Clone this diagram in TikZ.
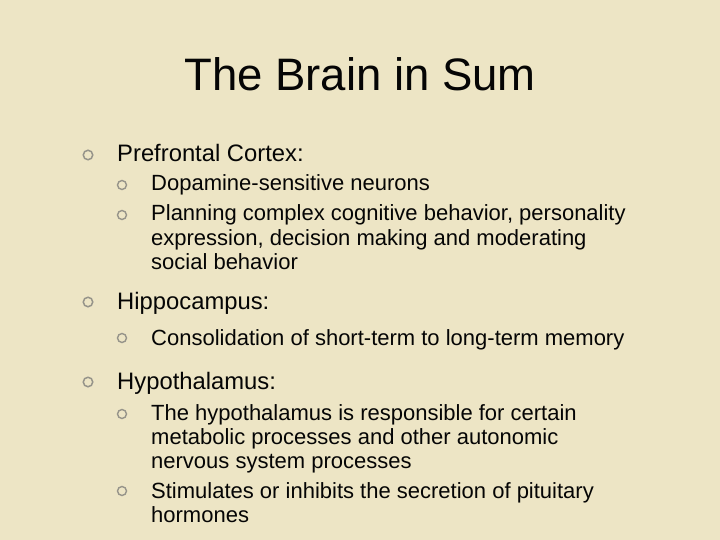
\documentclass[tikz,border=0pt]{standalone}
\usepackage{fontspec}
\setmainfont{Liberation Sans}
\definecolor{paper}{HTML}{EDE5C5}
\definecolor{ink}{HTML}{050505}
\definecolor{bul}{HTML}{96948A}
\tikzset{
  ttl/.style={anchor=base, font=\fontsize{45.5}{50}\selectfont, text=ink, inner sep=0pt},
  lone/.style={anchor=base west, font=\fontsize{23.8}{28}\selectfont, text=ink, inner sep=0pt},
  ltwo/.style={anchor=base west, font=\fontsize{22}{24}\selectfont, text=ink, inner sep=0pt},
  bulA/.style={draw=bul, line width=1.5pt, circle, minimum size=9.5pt, inner sep=0pt},
  bulB/.style={draw=bul, line width=1.4pt, circle, minimum size=9pt, inner sep=0pt}
}
\begin{document}
\begin{tikzpicture}[x=1pt,y=-1pt]
\fill[paper] (0,0) rectangle (720,540);
\useasboundingbox (0,0) rectangle (720,540);
\node[ttl] (title) at (360,91) {The Brain in Sum};

\node[bulA] (b1) at (88,155) {};
\node[lone] (t1) at (117,162) {Prefrontal Cortex:};
\node[bulB] (b11) at (122,185) {};
\node[ltwo] (t11) at (151,191) {Dopamine-sensitive neurons};
\node[bulB] (b12) at (122,215) {};
\node[ltwo] (t12a) at (151,221) {Planning complex cognitive behavior, personality};
\node[ltwo] (t12b) at (151,245) {expression, decision making and moderating};
\node[ltwo] (t12c) at (151,269) {social behavior};

\node[bulA] (b2) at (88,302) {};
\node[lone] (t2) at (117,309) {Hippocampus:};
\node[bulB] (b21) at (122,338) {};
\node[ltwo] (t21) at (151,345) {Consolidation of short-term to long-term memory};

\node[bulA] (b3) at (88,382) {};
\node[lone] (t3) at (117,389) {Hypothalamus:};
\node[bulB] (b31) at (122,414) {};
\node[ltwo] (t31a) at (151,420) {The hypothalamus is responsible for certain};
\node[ltwo] (t31b) at (151,444) {metabolic processes and other autonomic};
\node[ltwo] (t31c) at (151,468) {nervous system processes};
\node[bulB] (b32) at (122,491) {};
\node[ltwo] (t32a) at (151,498) {Stimulates or inhibits the secretion of pituitary};
\node[ltwo] (t32b) at (151,522) {hormones};
\end{tikzpicture}
\end{document}
